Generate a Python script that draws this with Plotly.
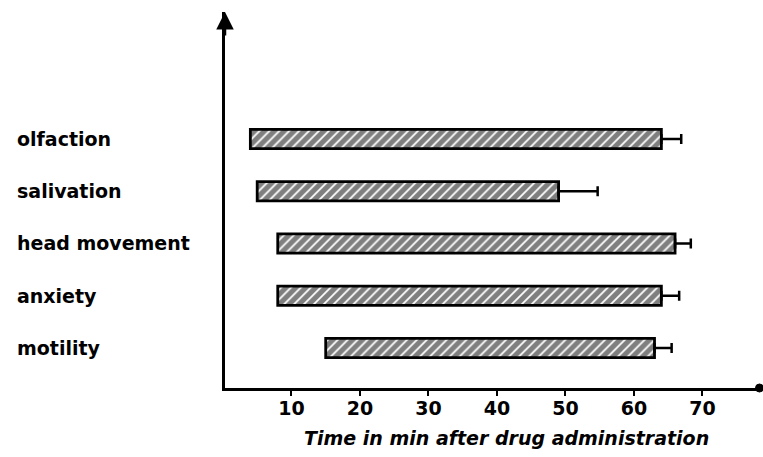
import plotly.graph_objects as go

# Data
categories = ["motility", "anxiety", "head movement", "salivation", "olfaction"]
onset = [15, 8, 8, 5, 4]          # start of effect (min)
end = [63, 64, 66, 49, 64]        # end of effect (min)
err = [2.5, 2.6, 2.3, 5.7, 2.9]   # error on the end time (min)
x_ticks = [10, 20, 30, 40, 50, 60, 70]
x_title = "Time in min after drug administration"

ypos = list(range(len(categories)))
duration = [e - s for s, e in zip(onset, end)]

FONT = "DejaVu Sans"
fig = go.Figure()

fig.add_trace(go.Bar(
    y=ypos, x=duration, base=onset, orientation="h", width=0.37,
    marker=dict(color="white",
                line=dict(color="black", width=2.8),
                pattern=dict(shape="/", fgcolor="black", bgcolor="white",
                             size=7, solidity=0.75)),
    hoverinfo="skip", showlegend=False,
))

fig.add_trace(go.Scatter(
    y=ypos, x=end, mode="markers", marker=dict(size=1, color="rgba(0,0,0,0)"),
    error_x=dict(type="data", symmetric=False, array=err,
                 arrayminus=[0] * len(err), color="black", thickness=2.5, width=5),
    hoverinfo="skip", showlegend=False,
))

# category labels (left aligned)
for yv, name in zip(ypos, categories):
    fig.add_annotation(x=-0.3925, xref="paper", y=yv, yref="y", text=name,
                       showarrow=False, xanchor="left", yanchor="middle",
                       font=dict(family=FONT, size=19, color="black", weight="bold"))

# axis title
fig.add_annotation(x=0.527, xref="paper", y=-0.133, yref="paper", text=x_title,
                   showarrow=False, xanchor="center", yanchor="middle",
                   font=dict(family=FONT, size=19, color="black", style="italic",
                             weight="bold"))

# y-axis arrow head
fig.add_annotation(x=0, xref="paper", y=1, yref="paper", ax=0, ay=25,
                   showarrow=True, arrowhead=2, arrowsize=1.4, arrowwidth=2.5,
                   arrowcolor="black", text="")

# x-axis end dot
fig.add_shape(type="circle", xref="paper", yref="paper",
              xsizemode="pixel", ysizemode="pixel", xanchor=1, yanchor=0,
              x0=-4.5, x1=3.5, y0=-4, y1=4,
              fillcolor="black", line=dict(color="black", width=1))

fig.update_layout(
    width=763, height=457,
    margin=dict(l=225, r=3, t=12, b=69),
    paper_bgcolor="white", plot_bgcolor="white",
    xaxis=dict(range=[0.3, 78.4], tickvals=x_ticks, showgrid=False, zeroline=False,
               showline=True, linecolor="black", linewidth=2.5,
               ticks="outside", ticklen=5, tickwidth=2, tickcolor="black",
               ticklabelstandoff=-4,
               tickfont=dict(family=FONT, size=19, color="black", weight="bold")),
    yaxis=dict(range=[-0.766, 6.431], showgrid=False, zeroline=False,
               showline=True, linecolor="black", linewidth=2.5,
               showticklabels=False, ticks=""),
    showlegend=False,
)

fig.write_html(
    "out.html",
    config={"displayModeBar": False},
    post_script=("document.body.style.margin='0';"
                 "document.body.style.overflow='hidden';"
                 "document.documentElement.style.overflow='hidden';"),
)
